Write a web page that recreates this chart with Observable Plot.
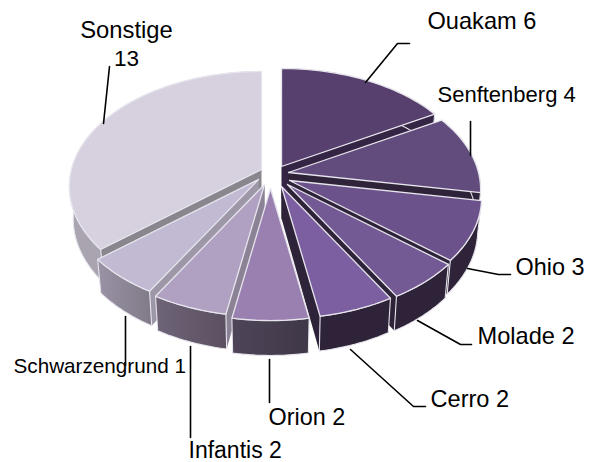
<!DOCTYPE html>
<html>
<head>
<meta charset="utf-8">
<script src="https://cdn.jsdelivr.net/npm/d3@7"></script>
<script src="https://cdn.jsdelivr.net/npm/@observablehq/plot@0.6"></script>
<style>
html,body{margin:0;padding:0;background:#fff}
svg{display:block}
</style>
</head>
<body>
<svg width="0" height="0" style="position:absolute">
  <defs id="defs"></defs>
</svg>
<div id="chart"></div>
<script>
// Data
const categories = ["Ouakam","Senftenberg","Ohio","Molade","Cerro","Orion","Infantis","Schwarzengrund","Sonstige"];
const labelValues = [6,4,3,2,2,2,2,1,13];
// Wedge sizes (the Schwarzengrund wedge is drawn as wide as its neighbours)
const wedgeSizes = [6,4,3,2,2,2,2,2,13];

// Explosion of each wedge
const explodeX = [6,13,14,12,6,-5,-11,-17,-14];
const explodeY = [-9,-3,5,9,11,13,9,4,-6];

// Styles
const topColors  = ["#58406e","#624c7d","#6c528b","#745a95","#7c5fa1","#9a80b0","#b0a0c2","#c2bad2","#d6d0df"];
const cutColors  = ["#352545","#2e2338","#2e2338","#2e2338","#2e2338","#3f3848","#8b8295","#9d97a8","#8a868e"];
const wallFrom   = ["#352545","#2e2338","#2e2338","#2e2338","#2e2338","#4f4458","#6f6478","#9a92a5","#aaa5b0"];
const wallTo     = ["#352545","#2e2338","#2e2338","#2e2338","#2e2338","#3f3848","#5a5060","#807a88","#a09ca8"];

// Labels
const labelText = categories.map((c, i) => c + " " + labelValues[i]);
const labelX = [427,437,515,477,430,268,188,13];
const labelY = [21,94,266.5,335.5,398.5,416.5,450,366];
const labelSize = [23.6,22,23.4,23.6,23.6,23.4,23,20.7];
const leaders = [
  [[365,82],[397,43],[409,43]],
  [[470,155],[470,121]],
  [[467,268],[498,274],[510,274]],
  [[417,320],[460,344],[471,344]],
  [[350,349],[413,406],[425,406]],
  [[269,359],[269,402]],
  [[190,346],[190,437]],
  [[125,316],[125,365]],
  [[103,123],[109,66]]
];

// Projection of the tilted disc
const cx = 275, cy = 175, rx = 190, ry = 112.5, persp = 0.148, depth = 32, shrink = 0.98;
function rim(i, a, bottom) {
  const X = Math.sin(a), Z = Math.cos(a), s = 1 / (1 + persp * Z);
  const k = bottom ? shrink : 1;
  return {
    x: cx + explodeX[i] + rx * X * s * k,
    y: cy + explodeY[i] - ry * Z * s * k + (bottom ? depth * s : 0)
  };
}
function apex(i, bottom) {
  return {x: cx + explodeX[i], y: cy + explodeY[i] + (bottom ? depth : 0)};
}
function arc(i, a0, a1, bottom) {
  const n = Math.max(2, Math.ceil(Math.abs(a1 - a0) / 0.03));
  return d3.range(n + 1).map(j => rim(i, a0 + (a1 - a0) * j / n, bottom));
}

const slices = d3.pie().sort(null).value(d => d)(wedgeSizes);

// Side gradients
const defs = d3.select("#defs");
categories.forEach((c, i) => {
  const g = defs.append("linearGradient").attr("id", "wall" + i);
  g.append("stop").attr("offset", "0%").attr("stop-color", wallFrom[i]);
  g.append("stop").attr("offset", "100%").attr("stop-color", wallTo[i]);
});

const edge = "#e6e4ec";
const mid = i => (slices[i].startAngle + slices[i].endAngle) / 2;
const order = d3.range(slices.length).sort((a, b) => Math.cos(mid(b)) - Math.cos(mid(a)));

const poly = (pts, fill, sw = 1.1) =>
  Plot.line([...pts, pts[0]], {x: "x", y: "y", fill, stroke: sw ? edge : "none", strokeWidth: sw || 1, strokeLinejoin: "round", curve: "linear"});

const marks = [];
for (const i of order) {
  const {startAngle: a0, endAngle: a1} = slices[i];
  for (const a of [a0, a1]) {
    marks.push(poly([apex(i), rim(i, a), rim(i, a, true), apex(i, true)], cutColors[i], 0));
  }
  marks.push(poly([...arc(i, a0, a1), ...arc(i, a1, a0, true)], `url(#wall${i})`));
  marks.push(poly([apex(i), ...arc(i, a0, a1)], topColors[i], 1.3));
}

leaders.forEach(pts => {
  marks.push(Plot.line(pts.map(([x, y]) => ({x, y})), {x: "x", y: "y", stroke: "#000", strokeWidth: 1.6, curve: "linear"}));
});

marks.push(Plot.text(d3.range(labelText.length - 1), {
  x: i => labelX[i], y: i => labelY[i], text: i => labelText[i],
  fontSize: i => labelSize[i], textAnchor: "start", fill: "#000", lineAnchor: "middle"
}));
// The last category's label is set on two lines, centred
marks.push(Plot.text([0], {x: () => 126, y: () => 30, text: () => categories[8], fontSize: 23.8, textAnchor: "middle", fill: "#000", lineAnchor: "middle"}));
marks.push(Plot.text([0], {x: () => 126, y: () => 58, text: () => String(labelValues[8]), fontSize: 22.5, textAnchor: "middle", fill: "#000", lineAnchor: "middle"}));

const chart = Plot.plot({
  width: 595, height: 462, margin: 0,
  style: {background: "#fff", fontFamily: "'Liberation Sans', Arial, sans-serif"},
  x: {domain: [0, 595], range: [0, 595], axis: null},
  y: {domain: [0, 462], range: [0, 462], axis: null},
  marks
});
document.getElementById("chart").append(chart);
</script>
</body>
</html>
